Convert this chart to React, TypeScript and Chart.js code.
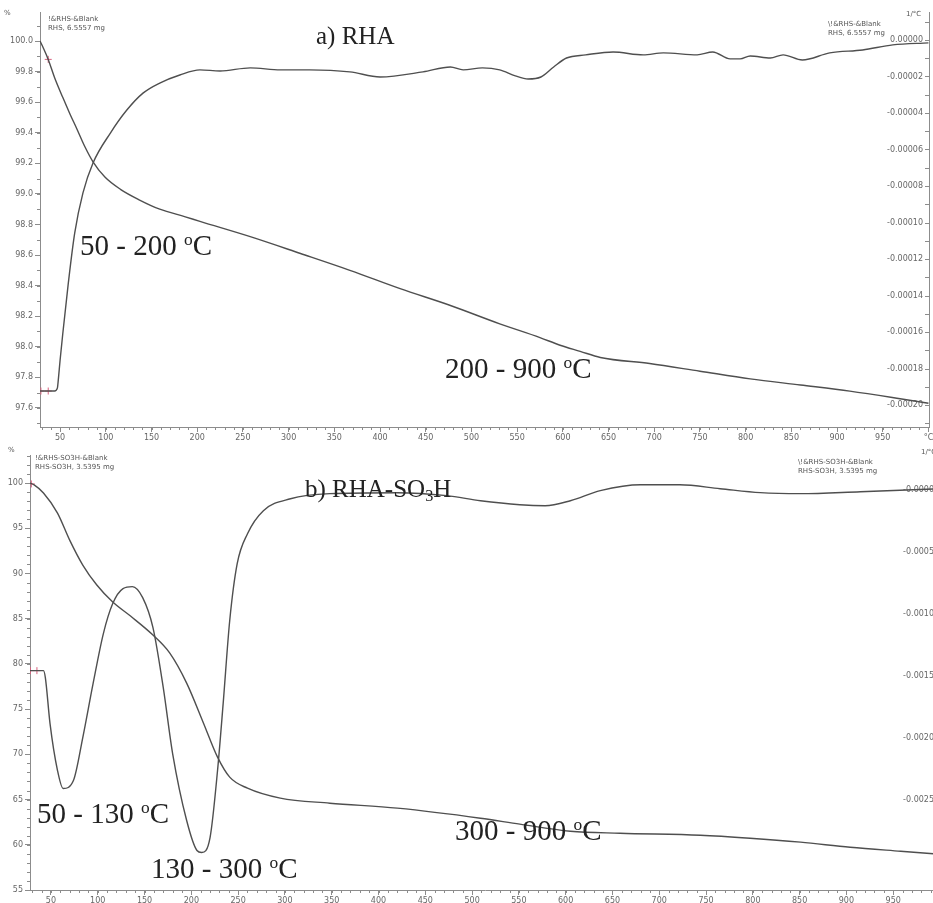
import React, { useEffect, useRef } from 'react';
import { Chart, registerables } from 'chart.js';
Chart.register(...registerables);

// ---------- a) RHA ----------
const rhaTgTemp = [28, 32, 37, 44, 53, 61, 68, 77, 86, 99, 116, 137, 159, 187, 203, 258, 313, 367, 422, 477, 531, 575, 597, 619, 641, 695, 750, 805, 860, 914, 969, 1000];
const rhaTgMass = [100.0, 99.95, 99.88, 99.76, 99.63, 99.52, 99.43, 99.31, 99.21, 99.11, 99.03, 98.96, 98.90, 98.85, 98.82, 98.72, 98.61, 98.50, 98.38, 98.27, 98.15, 98.06, 98.01, 97.97, 97.93, 97.89, 97.84, 97.79, 97.75, 97.71, 97.66, 97.63];
const rhaDtgTemp = [28, 44, 47, 48, 50, 53, 59, 66, 75, 86, 105, 123, 141, 159, 181, 203, 225, 258, 291, 323, 367, 400, 447, 477, 491, 512, 531, 548, 562, 576, 590, 604, 625, 655, 688, 710, 747, 764, 783, 794, 805, 827, 841, 862, 892, 928, 961, 1000];
const rhaDtgRate = [-19.23e-5, -19.23e-5, -19.07e-5, -18.63e-5, -17.53e-5, -16.05e-5, -13.31e-5, -10.57e-5, -8.38e-5, -6.74e-5, -5.10e-5, -3.84e-5, -2.90e-5, -2.36e-5, -1.92e-5, -1.64e-5, -1.70e-5, -1.53e-5, -1.64e-5, -1.64e-5, -1.75e-5, -2.03e-5, -1.75e-5, -1.48e-5, -1.64e-5, -1.53e-5, -1.64e-5, -1.97e-5, -2.14e-5, -2.03e-5, -1.48e-5, -0.99e-5, -0.82e-5, -0.66e-5, -0.82e-5, -0.71e-5, -0.82e-5, -0.66e-5, -1.04e-5, -1.04e-5, -0.88e-5, -0.99e-5, -0.82e-5, -1.10e-5, -0.71e-5, -0.55e-5, -0.27e-5, -0.16e-5];
const rhaTgMarkTemp = [37];
const rhaTgMarkMass = [99.88];
const rhaDtgMarkTemp = [29, 37];
const rhaDtgMarkRate = [-19.23e-5, -19.23e-5];

// ---------- b) RHA-SO3H ----------
const sulTgTemp = [27.6, 32, 42, 57, 70, 84, 99, 116, 135, 159, 177, 195, 213, 228, 241, 260, 295, 348, 420, 509, 551, 605, 658, 744, 797, 851, 904, 958, 1000];
const sulTgMass = [100.0, 99.8, 98.9, 96.68, 93.69, 90.93, 88.72, 86.84, 85.29, 83.19, 81.19, 77.88, 73.45, 69.69, 67.48, 66.26, 65.16, 64.60, 64.05, 62.94, 62.28, 61.50, 61.28, 61.06, 60.73, 60.29, 59.73, 59.29, 58.96];
const sulDtgTemp = [27.6, 42, 44, 49, 57, 63, 74, 84, 95, 106, 116, 127, 137, 148, 159, 170, 180, 195, 206, 211, 220, 228, 234, 241, 249, 260, 277, 306, 348, 420, 473, 509, 551, 578, 605, 637, 680, 722, 765, 808, 851, 915, 1000];
const sulDtgRate = [-14.60e-4, -14.60e-4, -15.16e-4, -18.87e-4, -22.66e-4, -24.11e-4, -23.47e-4, -20.00e-4, -15.65e-4, -11.61e-4, -9.19e-4, -7.98e-4, -7.82e-4, -8.71e-4, -11.13e-4, -15.97e-4, -21.29e-4, -26.69e-4, -29.11e-4, -29.28e-4, -28.07e-4, -22.66e-4, -17.26e-4, -10.57e-4, -5.97e-4, -3.55e-4, -1.69e-4, -0.73e-4, -0.32e-4, -0.24e-4, -0.48e-4, -0.89e-4, -1.21e-4, -1.29e-4, -0.89e-4, -0.08e-4, 0.40e-4, 0.40e-4, 0.08e-4, -0.24e-4, -0.32e-4, -0.16e-4, 0.08e-4];
const sulTgMarkTemp = [29];
const sulTgMarkMass = [99.9];
const sulDtgMarkTemp = [28, 35];
const sulDtgMarkRate = [-14.6e-4, -14.6e-4];

const LINE = '#4f4f4f';
const AXIS = '#8c8c8c';
const TICK_TXT = '#666666';
const RED = '#d8607e';
const TICK_FONT = { family: 'DejaVu Sans', size: 8 };

const pts = (xs: number[], ys: number[]) => xs.map((x, i) => ({ x, y: ys[i] }));

function minorTicks(defs: { id: string; step: number; side: string }[]) {
  return {
    id: 'minorTicks',
    afterDraw(chart: any) {
      const ctx = chart.ctx;
      ctx.save();
      ctx.strokeStyle = AXIS;
      ctx.lineWidth = 1;
      for (const d of defs) {
        const s = chart.scales[d.id];
        const k0 = Math.ceil(s.min / d.step - 1e-9);
        for (let k = k0; k * d.step <= s.max + 1e-12; k++) {
          const p = Math.round(s.getPixelForValue(k * d.step)) + 0.5;
          ctx.beginPath();
          if (d.side === 'bottom') { ctx.moveTo(p, s.top); ctx.lineTo(p, s.top + 3); }
          else if (d.side === 'left') { ctx.moveTo(s.right, p); ctx.lineTo(s.right - 3, p); }
          else { ctx.moveTo(s.left, p); ctx.lineTo(s.left - 4, p); }
          ctx.stroke();
        }
      }
      ctx.restore();
    },
  };
}

function buildConfig(p: any) {
  const lineDs = (data: any, axis: string) => ({
    data, yAxisID: axis, borderColor: LINE, borderWidth: 1.4, pointRadius: 0,
    cubicInterpolationMode: 'monotone', fill: false,
  });
  const markDs = (data: any, axis: string) => ({
    data, yAxisID: axis, showLine: false, pointStyle: 'cross', pointRadius: 3.5,
    borderColor: RED, borderWidth: 1, pointBorderColor: RED,
  });
  return {
    type: 'line',
    data: {
      datasets: [
        lineDs(pts(p.tgT, p.tgM), 'y'),
        lineDs(pts(p.dtgT, p.dtgV), 'y1'),
        markDs(pts(p.tgMT, p.tgMM), 'y'),
        markDs(pts(p.dtgMT, p.dtgMV), 'y1'),
      ],
    },
    options: {
      responsive: false,
      maintainAspectRatio: false,
      animation: false,
      layout: { padding: { top: p.padTop, left: 0, right: 0, bottom: 0 } },
      plugins: { legend: { display: false }, tooltip: { enabled: false }, title: { display: false } },
      scales: {
        x: {
          type: 'linear', position: 'bottom', min: p.xMin, max: p.xMax,
          afterFit: (s: any) => { s.height = p.xH; },
          border: { color: AXIS, width: 1 },
          grid: { drawOnChartArea: false, drawTicks: true, tickLength: 5, color: AXIS },
          ticks: {
            stepSize: 50, autoSkip: false, maxRotation: 0, includeBounds: false, padding: 1,
            font: TICK_FONT, color: TICK_TXT,
            callback: (v: number) => (Math.abs(v - 1000) < 1e-6 ? '°C' : String(v)),
          },
        },
        y: {
          type: 'linear', position: 'left', min: p.yMin, max: p.yMax,
          afterFit: (s: any) => { s.width = p.leftW; },
          border: { color: AXIS, width: 1 },
          grid: { drawOnChartArea: false, drawTicks: true, tickLength: 5, color: AXIS },
          ticks: {
            stepSize: p.yStep, includeBounds: false, autoSkip: false, padding: 2,
            font: TICK_FONT, color: TICK_TXT, callback: p.yFmt,
          },
        },
        y1: {
          type: 'linear', position: 'right', min: p.y1Min, max: p.y1Max,
          afterFit: (s: any) => { s.width = p.rightW; },
          afterBuildTicks: (s: any) => { s.ticks = s.ticks.filter((t: any) => t.value >= p.y1LabelMin); },
          border: { color: AXIS, width: 1 },
          grid: { drawOnChartArea: false, drawTicks: false, color: AXIS },
          ticks: {
            stepSize: p.y1Step, includeBounds: false, autoSkip: false, mirror: true, padding: -6,
            font: TICK_FONT, color: TICK_TXT, callback: p.y1Fmt,
          },
        },
      },
    },
    plugins: [minorTicks([
      { id: 'x', step: 10, side: 'bottom' },
      { id: 'y', step: p.yMinor, side: 'left' },
      { id: 'y1', step: p.y1Minor, side: 'right' },
    ])],
  };
}

const panelA = {
  tgT: rhaTgTemp, tgM: rhaTgMass, dtgT: rhaDtgTemp, dtgV: rhaDtgRate,
  tgMT: rhaTgMarkTemp, tgMM: rhaTgMarkMass, dtgMT: rhaDtgMarkTemp, dtgMV: rhaDtgMarkRate,
  xMin: 28, xMax: 1000.6,
  yMin: 97.475, yMax: 100.19, yStep: 0.2, yMinor: 0.1,
  yFmt: (v: number) => v.toFixed(1),
  y1Min: -0.000212, y1Max: 0.0000153, y1Step: 0.00002, y1Minor: 0.00001, y1LabelMin: -1,
  y1Fmt: (v: number) => (Math.abs(v) < 1e-12 ? '0.00000' : v.toFixed(5)),
  padTop: 12, xH: 21, leftW: 40, rightW: 16,
};

const panelB = {
  tgT: sulTgTemp, tgM: sulTgMass, dtgT: sulDtgTemp, dtgV: sulDtgRate,
  tgMT: sulTgMarkTemp, tgMM: sulTgMarkMass, dtgMT: sulDtgMarkTemp, dtgMV: sulDtgMarkRate,
  xMin: 27.6, xMax: 1000,
  yMin: 55, yMax: 103.1, yStep: 5, yMinor: 1,
  yFmt: (v: number) => String(Math.round(v)),
  y1Min: -0.00323, y1Max: 0.00028, y1Step: 0.0005, y1Minor: 0.0001, y1LabelMin: -0.0027,
  y1Fmt: (v: number) => '-' + Math.abs(v).toFixed(4),
  padTop: 7, xH: 13, leftW: 30, rightW: 20,
};

const small: React.CSSProperties = {
  position: 'absolute', fontFamily: 'DejaVu Sans', fontSize: 7, lineHeight: '9px', color: '#555', whiteSpace: 'pre',
};
const serif = (size: number): React.CSSProperties => ({
  position: 'absolute', fontFamily: '"Liberation Serif", "Times New Roman", serif', fontSize: size,
  lineHeight: 1, color: '#222', whiteSpace: 'nowrap',
});
const Deg = () => <span style={{ fontSize: '0.6em', verticalAlign: '0.6em' }}>o</span>;

function Range({ text, x, y }: { text: string; x: number; y: number }) {
  const size = 29;
  return <div style={{ ...serif(size), left: x, top: y - size * 0.5 }}>{text} <Deg />C</div>;
}

export default function App() {
  const topRef = useRef<HTMLCanvasElement>(null);
  const botRef = useRef<HTMLCanvasElement>(null);
  useEffect(() => {
    document.body.style.margin = '0';
    const c1 = new Chart(topRef.current as HTMLCanvasElement, buildConfig(panelA) as any);
    const c2 = new Chart(botRef.current as HTMLCanvasElement, buildConfig(panelB) as any);
    return () => { c1.destroy(); c2.destroy(); };
  }, []);
  return (
    <div style={{ position: 'relative', width: 933, height: 903, overflow: 'hidden', background: '#fff' }}>
      <canvas ref={topRef} width={945} height={448} style={{ position: 'absolute', left: 0, top: 0, width: 945, height: 448 }} />
      <canvas ref={botRef} width={960} height={455} style={{ position: 'absolute', left: 0, top: 448, width: 960, height: 455 }} />

      {/* panel a headers */}
      <div style={{ ...small, left: 4, top: 9 }}>%</div>
      <div style={{ ...small, left: 48, top: 15 }}>{'!&RHS-&Blank\nRHS, 6.5557 mg'}</div>
      <div style={{ ...small, left: 828, top: 20 }}>{'\\!&RHS-&Blank\nRHS, 6.5557 mg'}</div>
      <div style={{ ...small, left: 906, top: 10 }}>1/°C</div>
      <div style={{ ...serif(25), left: 316, top: 23 }}>a) RHA</div>

      {/* panel b headers */}
      <div style={{ ...small, left: 8, top: 446 }}>%</div>
      <div style={{ ...small, left: 35, top: 454 }}>{'!&RHS-SO3H-&Blank\nRHS-SO3H, 3.5395 mg'}</div>
      <div style={{ ...small, left: 798, top: 458 }}>{'\\!&RHS-SO3H-&Blank\nRHS-SO3H, 3.5395 mg'}</div>
      <div style={{ ...small, left: 921, top: 448 }}>1/°C</div>
      <div style={{ ...serif(25), left: 305, top: 476 }}>
        b) RHA-SO<span style={{ fontSize: '0.65em', verticalAlign: '-0.25em' }}>3</span>H
      </div>

      {/* range annotations */}
      <Range text="50 - 200" x={80} y={245} />
      <Range text="200 - 900" x={445} y={368} />
      <Range text="50 - 130" x={37} y={813} />
      <Range text="130 - 300" x={151} y={868} />
      <Range text="300 - 900" x={455} y={830} />
    </div>
  );
}
